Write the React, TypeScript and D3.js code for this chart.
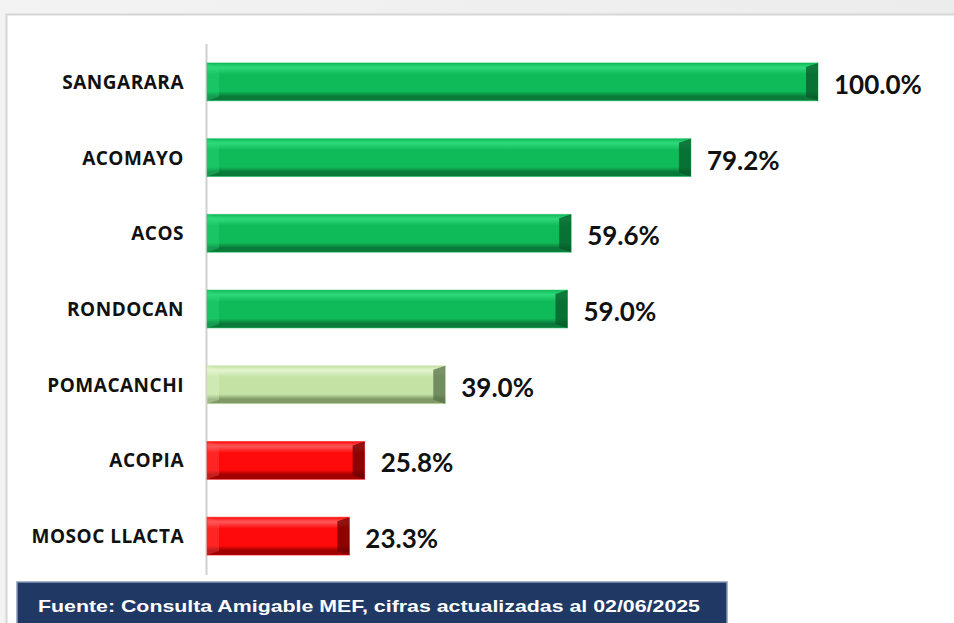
import React from "react";
import * as d3 from "d3";

const categories = ["SANGARARA", "ACOMAYO", "ACOS", "RONDOCAN", "POMACANCHI", "ACOPIA", "MOSOC LLACTA"];
const values = [100.0, 79.2, 59.6, 59.0, 39.0, 25.8, 23.3];
const colorGroups = ["green", "green", "green", "green", "light", "red", "red"];
const footerText = "Fuente: Consulta Amigable MEF, cifras actualizadas al 02/06/2025";

const palette: Record<string, { top: string; mid: string; bot: string; edge: string }> = {
  green: { top: "#2fd97a", mid: "#0fbb58", bot: "#0a7a3a", edge: "#075a2a" },
  light: { top: "#e4f5cf", mid: "#c4e2a4", bot: "#7f9a66", edge: "#55704a" },
  red: { top: "#ff5a5a", mid: "#ff0a0a", bot: "#a00000", edge: "#6a0000" },
};

export default function App() {
  const W = 954, H = 623;
  const x0 = 207;
  const x = d3.scaleLinear().domain([0, 100]).range([x0, 818]);
  const y = d3.scaleBand().domain(categories).range([44, 574]).paddingInner(0.5).paddingOuter(0.25);
  const bh = y.bandwidth();
  const bev = 4;

  return (
    <svg width={W} height={H} style={{ position: "absolute", left: 0, top: 0 }}>
      <defs>
        {Object.entries(palette).map(([k, p]) => (
          <linearGradient key={k} id={`g-${k}`} x1="0" y1="0" x2="0" y2="1">
            <stop offset="0" stopColor={p.mid} />
            <stop offset="0.12" stopColor={p.top} />
            <stop offset="0.3" stopColor={p.mid} />
            <stop offset="0.75" stopColor={p.mid} />
            <stop offset="0.88" stopColor={p.bot} />
            <stop offset="1" stopColor={p.bot} />
          </linearGradient>
        ))}
        <linearGradient id="bg" x1="0" y1="0" x2="1" y2="0">
          <stop offset="0" stopColor="#f3f3f3" />
          <stop offset="1" stopColor="#ececec" />
        </linearGradient>
      </defs>
      <rect x={0} y={0} width={W} height={H} fill="url(#bg)" />
      <rect x={6.5} y={14.5} width={W} height={H} fill="#ffffff" stroke="#d6d6d6" strokeWidth={2} />
      <line x1={x0 - 0.5} x2={x0 - 0.5} y1={44} y2={575} stroke="#d0d0d0" strokeWidth={2} />
      {categories.map((c, i) => {
        const yy = y(c)!;
        const xe = x(values[i]);
        const p = palette[colorGroups[i]];
        const g = colorGroups[i];
        return (
          <g key={c}>
            <rect x={x0} y={yy} width={xe - x0} height={bh} fill={`url(#g-${g})`} stroke={p.mid} strokeOpacity={0.5} strokeWidth={1} />
            <polygon points={`${x0},${yy} ${x0 + bev * 3},${yy + bev} ${x0 + bev * 3},${yy + bh - bev} ${x0},${yy + bh}`} fill={p.top} opacity={0.35} />
            <polygon points={`${xe},${yy} ${xe - bev * 3},${yy + bev} ${xe - bev * 3},${yy + bh - bev} ${xe},${yy + bh}`} fill={p.edge} opacity={0.75} />
            <text x={184} y={yy + bh / 2} textAnchor="end" dominantBaseline="central" fontFamily="'Open Sans', Lato, sans-serif" fontWeight={700} fontSize={19} letterSpacing={0.5} fill="#111">
              {c}
            </text>
            <text x={xe + 16} y={yy + bh / 2 + 2} dominantBaseline="central" fontFamily="Lato, 'Open Sans', sans-serif" fontWeight={700} fontSize={26} fill="#111">
              {values[i].toFixed(1) + "%"}
            </text>
          </g>
        );
      })}
      <rect x={17} y={582} width={710} height={45} fill="#1f3864" stroke="#8a9ab8" strokeWidth={1.5} />
      <text x={38} y={606} dominantBaseline="central" fontFamily="'Liberation Sans Narrow', 'Arial Narrow', 'Liberation Sans', sans-serif" fontWeight={700} fontSize={17} fill="#ffffff" textLength={662} lengthAdjust="spacingAndGlyphs">
        {footerText}
      </text>
    </svg>
  );
}
